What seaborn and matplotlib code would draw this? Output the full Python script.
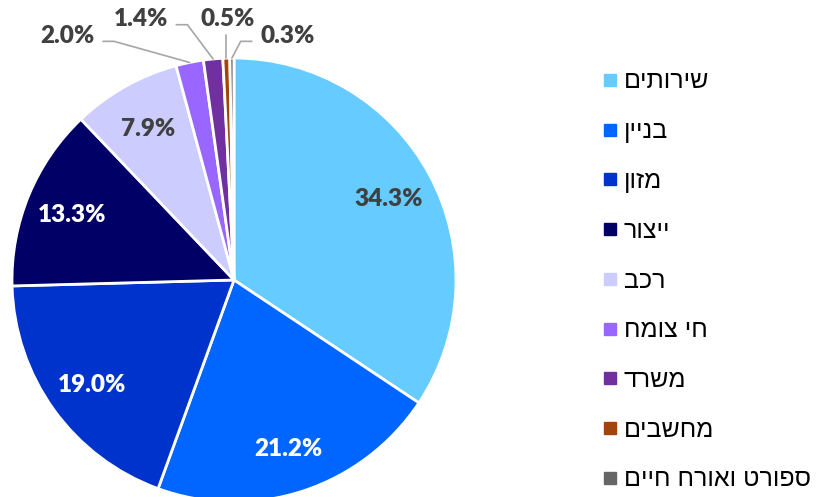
import numpy as np
import seaborn as sns
import matplotlib.pyplot as plt
from matplotlib.lines import Line2D

# data
sectors = ["שירותים", "בניין", "מזון", "ייצור", "רכב", "חי צומח", "משרד", "מחשבים", "ספורט ואורח חיים"]
shares = [34.3, 21.2, 19.0, 13.3, 7.9, 2.0, 1.4, 0.5, 0.3]
colors = ["#66CCFF", "#0066FF", "#0033CC", "#000066", "#CCCCFF", "#9966FF", "#7030A0", "#A0460C", "#666666"]
label_colors = ["#404040", "white", "white", "white", "#404040"]

sns.set_theme(style="white")
plt.rcParams['font.family'] = ['Liberation Sans', 'DejaVu Sans']

fig = plt.figure(figsize=(8.21, 4.97), dpi=100)
ax = fig.add_axes([12 / 821, -5 / 497, 444 / 821, 444 / 497])

wedges, _ = ax.pie(shares, colors=colors, startangle=90, counterclock=False,
                   wedgeprops=dict(edgecolor="white", linewidth=2))
ax.set_xlim(-1, 1)
ax.set_ylim(-1, 1)
ax.axis("off")

pct_font = dict(family=["Lato", "DejaVu Sans"], fontweight="heavy", fontsize=17.5)

# labels inside the big slices
for w, v, c in zip(wedges[:5], shares[:5], label_colors):
    mid = np.deg2rad((w.theta1 + w.theta2) / 2)
    ax.text(0.79 * np.cos(mid), 0.79 * np.sin(mid) - 0.01, f"{v:.1f}%", color=c,
            ha="center", va="center", **pct_font)

# small slices: labels outside with leader lines
outside_pos = [(-0.75, 1.10), (-0.42, 1.175), (-0.03, 1.175), (0.24, 1.10)]
for w, v, (tx, ty) in zip(wedges[5:], shares[5:], outside_pos):
    mid = np.deg2rad((w.theta1 + w.theta2) / 2)
    px, py = np.cos(mid), np.sin(mid)
    ax.text(tx, ty, f"{v:.1f}%", color="#404040", ha="center", va="center", **pct_font)
    if abs(tx - px) < 0.05:
        xs, ys = [px, px], [py, ty - 0.07]
    elif tx < px:
        ex = tx + 0.16
        xs, ys = [px, ex + 0.05, ex], [py, ty - 0.025, ty - 0.025]
    else:
        ex = tx - 0.16
        xs, ys = [px, ex - 0.05, ex], [py, ty - 0.025, ty - 0.025]
    ax.plot(xs, ys, color="#A6A6A6", lw=1.2, clip_on=False)

handles = [Line2D([], [], marker="s", linestyle="", markersize=8, markerfacecolor=c,
                  markeredgecolor=c) for c in colors]
fig.legend(handles, [s[::-1] for s in sectors], loc="upper left",
           bbox_to_anchor=(576 / 821, 1 - 47 / 497), frameon=False, fontsize=18,
           labelspacing=1.03, handletextpad=0.1, handlelength=0.9, labelcolor="black")

fig.savefig("out.png", dpi=100)
